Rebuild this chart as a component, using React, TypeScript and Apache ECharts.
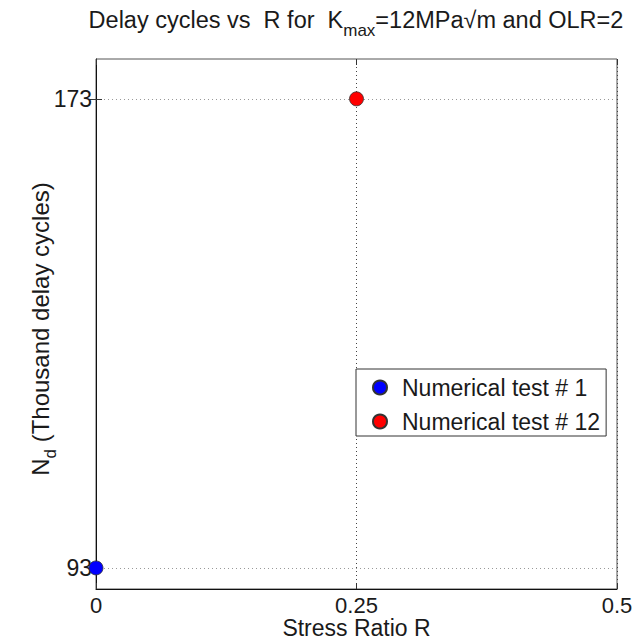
import React, { useEffect, useRef } from "react";
import * as echarts from "echarts";

const seriesNames = ["Numerical test # 1", "Numerical test # 12"];
const stressRatio = [0, 0.25];
const delayCycles = [93, 173];
const seriesColors = ["#0000ff", "#ff0000"];
const yTicks = [93, 173];
const xMin = 0;
const xMax = 0.5;
const xInterval = 0.25;
const yMin = 89.4;
const yMax = 179.8;

const FONT = "'Liberation Sans', Arial, sans-serif";
const TXT = "#1a1a1a";

export default function App() {
  const ref = useRef<HTMLDivElement>(null);
  useEffect(() => {
    if (!ref.current) return;
    const chart = echarts.init(ref.current, undefined, { renderer: "svg" });
    const tickCommon = { show: true, inside: true, length: 6, lineStyle: { color: "#333" } };
    const option: any = {
      animation: false,
      backgroundColor: "#ffffff",
      textStyle: { fontFamily: FONT },
      grid: {
        left: 96,
        right: 15,
        top: 59,
        bottom: 52,
        containLabel: false,
        outerBoundsMode: "none",
        show: true,
        borderColor: "#555",
        borderWidth: 1,
        backgroundColor: "#fff",
      },
      graphic: [
        {
          type: "text",
          x: 356,
          y: 8,
          style: {
            text: "{m|Delay cycles vs  R for  K}{s|max}{m|=12MPa√m and OLR=2}",
            align: "center",
            verticalAlign: "top",
            rich: {
              m: { fontSize: 23.5, lineHeight: 24, fontFamily: FONT, fill: TXT, verticalAlign: "top" },
              s: { fontSize: 17, lineHeight: 17, fontFamily: FONT, fill: TXT, verticalAlign: "top", padding: [14, 0, 0, 0] },
            },
          },
        },
      ],
      legend: {
        orient: "vertical",
        left: 356,
        top: 369,
        icon: "circle",
        itemWidth: 14,
        itemHeight: 14,
        itemGap: 11,
        padding: [7, 6, 3, 16],
        borderColor: "#333",
        borderWidth: 1,
        backgroundColor: "#fff",
        textStyle: { fontSize: 23, color: TXT, fontFamily: FONT, padding: [0, 0, 0, 10] },
        data: seriesNames,
      },
      xAxis: [
        {
          type: "value",
          min: xMin,
          max: xMax,
          interval: xInterval,
          position: "bottom",
          axisLine: { show: true, onZero: false, lineStyle: { color: "#111" } },
          axisTick: tickCommon,
          axisLabel: {
            fontSize: 22,
            lineHeight: 16,
            color: TXT,
            fontFamily: FONT,
            margin: 8,
            formatter: (v: number) => String(v),
          },
          splitLine: { show: true, lineStyle: { color: "#444", type: [1, 3], width: 1 } },
          name: "Stress Ratio R",
          nameLocation: "middle",
          nameGap: 30,
          nameMoveOverlap: false,
          nameTextStyle: { fontSize: 23, lineHeight: 17, color: TXT, fontFamily: FONT },
        },
        {
          type: "value",
          min: xMin,
          max: xMax,
          interval: xInterval,
          position: "top",
          axisLine: { show: false },
          axisTick: tickCommon,
          axisLabel: { show: false },
          splitLine: { show: false },
        },
      ],
      yAxis: [
        {
          type: "value",
          min: yMin,
          max: yMax,
          position: "left",
          axisLine: { show: true, onZero: false, lineStyle: { color: "#111" } },
          axisTick: { ...tickCommon, customValues: yTicks },
          axisLabel: {
            fontSize: 23,
            color: TXT,
            fontFamily: FONT,
            margin: 4,
            customValues: yTicks,
          },
          splitLine: { show: true, lineStyle: { color: "#999", type: [1, 3], width: 1 } },
          name: "{m|N}{s|d}{m| (Thousand delay cycles)}",
          nameLocation: "middle",
          nameRotate: 90,
          nameGap: 44,
          nameMoveOverlap: false,
          nameTextStyle: {
            padding: [0, 10, 0, 0],
            rich: {
              m: { fontSize: 24, lineHeight: 24, fontFamily: FONT, color: TXT, verticalAlign: "top" },
              s: { fontSize: 17, lineHeight: 17, fontFamily: FONT, color: TXT, verticalAlign: "top", padding: [14, 0, 0, 0] },
            },
          },
        },
        {
          type: "value",
          min: yMin,
          max: yMax,
          position: "right",
          axisLine: { show: false },
          axisTick: { ...tickCommon, customValues: yTicks },
          axisLabel: { show: false },
          splitLine: { show: false },
        },
      ],
      series: seriesNames.map((name, i) => ({
        name,
        type: "scatter",
        xAxisIndex: 0,
        yAxisIndex: 0,
        symbol: "circle",
        symbolSize: 14,
        clip: false,
        itemStyle: { color: seriesColors[i], borderColor: "#333", borderWidth: 0.8, opacity: 1 },
        data: [[stressRatio[i], delayCycles[i]]],
      })),
    };
    chart.setOption(option);
    return () => chart.dispose();
  }, []);
  return (
    <div
      ref={ref}
      style={{ position: "fixed", left: 0, top: 0, width: 632, height: 641 }}
    />
  );
}
